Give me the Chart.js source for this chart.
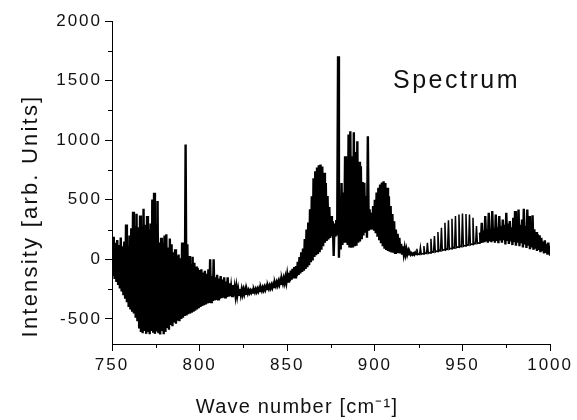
<!DOCTYPE html>
<html>
<head>
<meta charset="utf-8">
<script src="https://cdn.jsdelivr.net/npm/chart.js@4.4.1/dist/chart.umd.min.js"></script>
<style>
html,body{margin:0;padding:0;background:#fff;}
canvas{display:block;}
</style>
</head>
<body>
<canvas id="c" width="577" height="420"></canvas>
<script>
// ---- data ----
const startWavenumber = 750; // cm-1, one envelope value per 1 cm-1
const upperEnvelope = [
  180, 190, 140, 162, 120, 184, 110, 150, 293, 112,   // 750
  200, 260, 400, 280, 383, 270, 369, 280, 425, 290,   // 760
  363, 250, 300, 503, 559, 300, 489, 142, 182, 140,   // 770
  201, 210, 100, 176, 126, 60, 84, 30, 40, 10,        // 780
  142, -10, 964, 126, 28, -40, 22, -28, -60, -75,     // 790
  -90, -84, -110, -95, -120, -84, 0, -140, 0, -150,   // 800
  -130, -160, -140, -170, -151, -185, -150, -200, -235, -215, // 810
  -240, -235, -250, -248, -252, -255, -255, -258, -260, -262, // 820
  -262, -255, -250, -247, -243, -240, -236, -232, -228, -224, // 830
  -220, -215, -210, -198, -192, -185, -177, -170, -160, -150, // 840
  -130, -112, -95, -80, -65, -56, -20, 20, 60, 90,    // 850
  170, 250, 310, 420, 530, 680, 740, 770, 790, 796,   // 860
  780, 726, 640, 531, 440, 363, 320, 300, 330, 1704,  // 870
  420, 640, 560, 866, 700, 1048, 1075, 866, 1067, 900, // 880
  991, 820, 782, 650, 643, 531, 1033, 420, 391, 447,  // 890
  500, 560, 600, 628, 645, 656, 640, 601, 530, 447,   // 900
  380, 320, 250, 215, 180, 130, 110, 95, 84, 70,      // 910
  58, 52, 50, 55, 89, 45, 100, 48, 112, 52,           // 920
  140, 57, 173, 63, 195, 69, 229, 75, 265, 81,        // 930
  307, 86, 329, 92, 341, 98, 363, 104, 377, 110,      // 940
  385, 116, 380, 122, 377, 128, 349, 134, 279, 139,   // 950
  224, 307, 240, 363, 250, 391, 255, 405, 260, 377,   // 960
  270, 363, 280, 335, 290, 391, 300, 321, 270, 349,   // 970
  405, 300, 419, 290, 335, 425, 280, 419, 363, 307,   // 980
  370, 252, 230, 210, 202, 180, 150, 160, 130, 140, 112 // 990-1000
];
const lowerEnvelope = [
  -140, -165, -190, -215, -245, -270, -300, -330, -360, -400, // 750
  -420, -440, -455, -490, -520, -580, -610, -620, -600, -625, // 760
  -610, -628, -600, -615, -625, -605, -620, -630, -600, -628, // 770
  -610, -575, -590, -550, -560, -530, -540, -515, -520, -500, // 780
  -490, -475, -470, -460, -455, -447, -440, -430, -420, -410, // 790
  -400, -391, -385, -378, -370, -365, -358, -350, -345, -340, // 800
  -335, -330, -325, -321, -318, -315, -312, -309, -307, -305, // 810
  -303, -300, -298, -295, -293, -290, -288, -285, -282, -280, // 820
  -278, -275, -272, -268, -265, -262, -258, -255, -250, -246, // 830
  -242, -238, -233, -222, -217, -211, -205, -200, -195, -192, // 840
  -187, -182, -170, -160, -150, -140, -130, -118, -105, -95,  // 850
  -80, -65, -50, -25, -10, 20, 35, 45, 60, 80,                // 860
  110, 140, 155, 168, 180, 195, 28, 190, 200, 14,             // 870
  84, 120, 140, 140, 120, 100, 98, 100, 110, 115,             // 880
  140, 150, 170, 200, 224, 182, 240, 250, 251, 240,           // 890
  220, 190, 160, 135, 110, 90, 78, 70, 64, 58,                // 900
  56, 55, 54, 52, 50, 48, 46, 44, 43, 42,                     // 910
  40, 40, 40, 40, 41, 42, 43, 45, 47, 49,                     // 920
  51, 54, 57, 60, 63, 66, 69, 72, 75, 78,                     // 930
  80, 83, 86, 89, 92, 95, 98, 101, 104, 107,                  // 940
  110, 113, 116, 119, 122, 125, 128, 131, 134, 136,           // 950
  138, 140, 145, 150, 140, 152, 145, 155, 140, 155,           // 960
  135, 158, 140, 160, 125, 155, 130, 150, 120, 145,           // 970
  115, 140, 110, 135, 100, 125, 95, 115, 85, 100,             // 980
  80, 90, 70, 80, 60, 70, 50, 55, 40, 45, 30                  // 990-1000
];
// wavenumber range where the spectrum is a sparse comb of single lines
const combRange = [923, 960];
const xTickValues = [750, 800, 850, 900, 950, 1000];
const xMinorTickValues = [775, 825, 875, 925, 975];
const yTickValues = [-500, 0, 500, 1000, 1500, 2000];
const yMinorTickValues = [-250, 250, 750, 1250, 1750];
const xTitle = 'Wave number [cm\u207B\u00B9]';
const yTitle = 'Intensity [arb. Units]';
const plotLabel = 'Spectrum';

// ---- build the traces: upper and lower envelope alternate ----
const denseTrace = [];
const combTrace = [];
for (let i = 0; i < upperEnvelope.length; i++) {
  const w = startWavenumber + i;
  const pts = [{x: w, y: upperEnvelope[i]},
               {x: i < upperEnvelope.length - 1 ? w + 0.5 : w, y: lowerEnvelope[i]}];
  const inComb = w >= combRange[0] && w <= combRange[1];
  const edge = w === combRange[0] || w === combRange[1];
  if (inComb) combTrace.push(...pts);
  if (!inComb || edge) denseTrace.push(...pts);
  if (w === combRange[0]) denseTrace.push({x: w + 1, y: null});
}

const FAMILY = '"Liberation Sans", Arial, Helvetica, sans-serif';
const TEXT = '#111';

const decor = {
  id: 'decor',
  beforeUpdate(chart) { chart.ctx.letterSpacing = '2px'; },
  beforeDraw(chart) { chart.ctx.letterSpacing = '2px'; },
  afterDraw(chart) {
    const {ctx, chartArea, scales} = chart;
    const x = scales.x, y = scales.y;
    ctx.save();
    ctx.strokeStyle = '#000';
    ctx.lineWidth = 1;
    ctx.beginPath();
    yMinorTickValues.forEach(v => {
      const py = Math.round(y.getPixelForValue(v)) + 0.5;
      ctx.moveTo(chartArea.left - 4, py); ctx.lineTo(chartArea.left, py);
    });
    xMinorTickValues.forEach(v => {
      const px = Math.round(x.getPixelForValue(v)) + 0.5;
      ctx.moveTo(px, chartArea.bottom); ctx.lineTo(px, chartArea.bottom + 4);
    });
    ctx.stroke();

    ctx.fillStyle = TEXT;
    ctx.letterSpacing = '1.2px';
    ctx.font = '20px ' + FAMILY;
    ctx.textAlign = 'center';
    ctx.textBaseline = 'alphabetic';
    ctx.fillText(xTitle, 297, 413);
    ctx.save();
    ctx.letterSpacing = '2.2px';
    ctx.font = '22px ' + FAMILY;
    ctx.translate(31, 216);
    ctx.rotate(-Math.PI / 2);
    ctx.textAlign = 'center';
    ctx.textBaseline = 'middle';
    ctx.fillText(yTitle, 0, 0);
    ctx.restore();
    ctx.letterSpacing = '2.5px';
    ctx.font = '25px ' + FAMILY;
    ctx.textAlign = 'left';
    ctx.textBaseline = 'alphabetic';
    ctx.fillText(plotLabel, 393, 88);
    ctx.restore();
  }
};

new Chart(document.getElementById('c'), {
  type: 'line',
  data: {
    datasets: [{
      data: denseTrace,
      borderColor: '#000',
      borderWidth: 2.4,
      pointRadius: 0,
      tension: 0,
      spanGaps: false,
      fill: false
    }, {
      data: combTrace,
      borderColor: '#000',
      borderWidth: 1.5,
      pointRadius: 0,
      tension: 0,
      fill: false
    }]
  },
  options: {
    responsive: false,
    animation: false,
    devicePixelRatio: 1,
    layout: {padding: {left: 0, right: 26, top: 21, bottom: 0}},
    plugins: {legend: {display: false}, tooltip: {enabled: false}, title: {display: false}},
    scales: {
      x: {
        type: 'linear', min: 750, max: 1000,
        afterBuildTicks: s => { s.ticks = xTickValues.map(v => ({value: v})); },
        afterFit: s => { s.height = 76; },
        grid: {display: true, drawOnChartArea: false, drawTicks: true, tickLength: 7, color: '#000', tickColor: '#000', tickWidth: 1},
        border: {display: true, color: '#000', width: 1},
        ticks: {color: TEXT, font: {family: FAMILY, size: 17}, padding: 4, maxRotation: 0, autoSkip: false,
                callback: v => String(v)}
      },
      y: {
        type: 'linear', min: -710, max: 2000,
        afterBuildTicks: s => { s.ticks = yTickValues.map(v => ({value: v})); },
        afterFit: s => { s.width = 112; },
        grid: {display: true, drawOnChartArea: false, drawTicks: true, tickLength: 7, color: '#000', tickColor: '#000', tickWidth: 1},
        border: {display: true, color: '#000', width: 1},
        ticks: {color: TEXT, font: {family: FAMILY, size: 17}, padding: 3, autoSkip: false,
                callback: v => String(v)}
      }
    }
  },
  plugins: [decor]
});
</script>
</body>
</html>
